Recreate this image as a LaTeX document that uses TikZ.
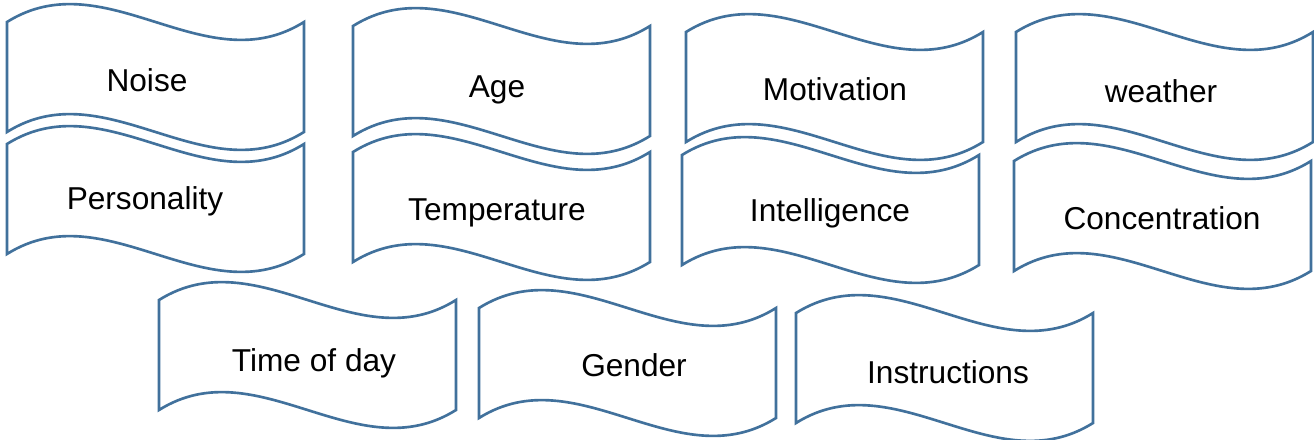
\documentclass[tikz,border=0pt]{standalone}
\usepackage{fontspec}
\setmainfont{Liberation Sans}
\usepackage{xcolor}
\usepackage{tikz}
\usetikzlibrary{positioning}
\definecolor{flagblue}{HTML}{41719C}

\tikzset{
	flag/.style={draw=flagblue, line width=1.5pt, fill=white, line join=miter},
	rotulo/.style={anchor=base, inner sep=0pt},
	pics/wave/.style={code={
		\draw[flag] (0,0) .. controls +(99,-62) and +(-99,62) .. ++(297,0)
			-- ++(0,110) .. controls +(-99,62) and +(99,-62) .. ++(-297,0) -- cycle;
	}}
}

\begin{document}
\begin{tikzpicture}[x=0.2mm, y=-0.2mm, font=\fontsize{18}{21}\selectfont]
			\useasboundingbox (0,0) rectangle (1314,439);
			
			%% Primeira coluna
			\pic at (7,22) {wave};
			\pic at (7,144) {wave};
			\node (noise) [rotulo] at (147,91) {Noise};
			\node (personality) [rotulo] at (145,209) {Personality};
			
			%% Segunda coluna
			\pic at (353,26) {wave};
			\pic at (353,152) {wave};
			\node (age) [rotulo] at (497,97) {Age};
			\node (temperature) [rotulo] at (497,220) {Temperature};
			
			%% Terceira coluna
			\pic at (686,32) {wave};
			\pic at (682,155) {wave};
			\node (motivation) [rotulo] at (835,100) {Motivation};
			\node (intelligence) [rotulo] at (830,221) {Intelligence};
			
			%% Quarta coluna
			\pic at (1016,32) {wave};
			\pic at (1014,161) {wave};
			\node (weather) [rotulo] at (1161,102) {weather};
			\node (concentration) [rotulo] at (1162,229) {Concentration};
			
			%% Linha de baixo
			\pic at (159,300) {wave};
			\pic at (479,308) {wave};
			\pic at (796,313) {wave};
			\node (timeofday) [rotulo] at (314,371) {Time of day};
			\node (gender) [rotulo] at (634,376) {Gender};
			\node (instructions) [rotulo] at (948,383) {Instructions};
		\end{tikzpicture}
\end{document}
